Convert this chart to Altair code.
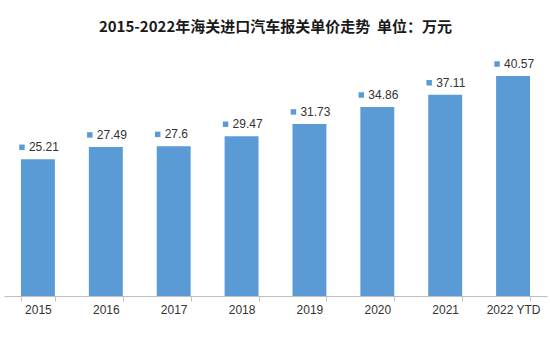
import altair as alt
import pandas as pd

years = ["2015", "2016", "2017", "2018", "2019", "2020", "2021", "2022 YTD"]
prices = [25.21, 27.49, 27.6, 29.47, 31.73, 34.86, 37.11, 40.57]
labels = ["25.21", "27.49", "27.6", "29.47", "31.73", "34.86", "37.11", "40.57"]

df = pd.DataFrame({"year": years, "price": prices, "label": labels})

BLUE = "#5B9BD5"

x = alt.X("year:N", sort=years, title=None,
          scale=alt.Scale(paddingInner=0.5, paddingOuter=0.25),
          axis=alt.Axis(labelAngle=0, tickBand="extent", domainColor="#bfbfbf",
                        tickColor="#bfbfbf", tickSize=5, labelPadding=3,
                        labelFont="Liberation Sans", labelFontSize=12,
                        labelColor="#333333"))
y = alt.Y("price:Q", title=None, scale=alt.Scale(domain=[0, 45]), axis=None)

base = alt.Chart(df).encode(x=x, y=y)

bars = base.mark_bar(color=BLUE)
squares = base.mark_square(color=BLUE, size=30, opacity=1, xOffset=-16, yOffset=-12)
texts = base.mark_text(align="left", baseline="middle", dx=-9, dy=-12,
                       font="Liberation Sans", fontSize=12, color="#333333").encode(text="label:N")

chart = alt.layer(bars, squares, texts).properties(
    width=543, height=244,
    autosize=alt.AutoSizeParams(type="none"),
    padding={"left": 4, "right": 3, "top": 52, "bottom": 52},
    title=alt.TitleParams("2015-2022年海关进口汽车报关单价走势\u00a0\u00a0单位：万元",
                          font="Noto Sans CJK SC", fontSize=15, fontWeight="bold",
                          color="#1a1a1a", anchor="middle", offset=17),
).configure_view(stroke=None)

chart.save("out.html", embed_options={"renderer": "svg", "actions": False})
